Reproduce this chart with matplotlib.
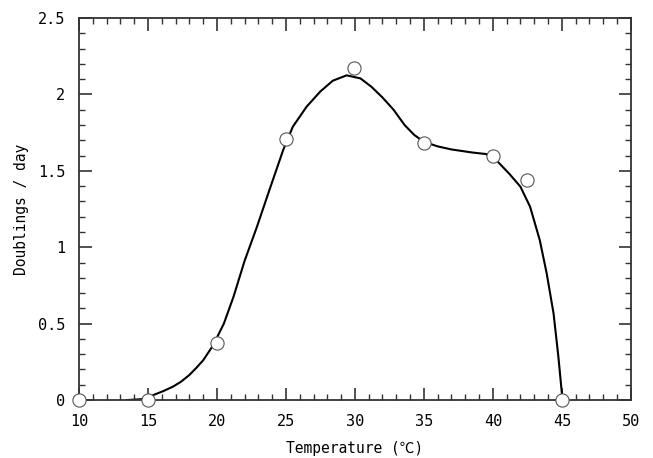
import matplotlib
matplotlib.use("Agg")
import matplotlib.pyplot as plt
from matplotlib.ticker import MultipleLocator

plt.rcParams['font.family'] = ['DejaVu Sans Mono', 'Noto Sans CJK JP']

# measured growth points
temp = [10, 15, 20, 25, 29.9, 35, 40, 42.5, 45]
rate = [0, 0, 0.375, 1.71, 2.17, 1.68, 1.595, 1.44, 0]

# fitted curve
curve_t = [13.5, 14.5, 15.0, 15.4, 16.1, 16.8, 17.4, 18.0, 18.5, 19.0,
           19.7, 20.5, 21.2, 22.0, 22.9, 23.8, 24.8, 25.5, 26.5, 27.5,
           28.4, 29.4, 30.4, 31.2, 32.0, 32.8, 33.6, 34.3, 35.0, 36.0,
           37.0, 38.5, 39.5, 40.3, 41.2, 42.0, 42.7, 43.4, 43.9, 44.4,
           44.75, 45.05]
curve_r = [0, 0.005, 0.018, 0.033, 0.058, 0.087, 0.12, 0.164, 0.21, 0.26,
           0.355, 0.50, 0.676, 0.91, 1.134, 1.374, 1.636, 1.789, 1.92, 2.02,
           2.09, 2.125, 2.105, 2.05, 1.98, 1.90, 1.80, 1.735, 1.69, 1.66,
           1.64, 1.62, 1.61, 1.565, 1.48, 1.396, 1.265, 1.047, 0.83, 0.567,
           0.283, 0]

fig = plt.figure(figsize=(6.53, 4.58), dpi=100)
ax = fig.add_axes([0.121, 0.1266, 0.845, 0.834])

ax.plot(curve_t, curve_r, color='black', lw=1.5, zorder=2)
ax.plot(temp, rate, 'o', ms=9.5, mfc='white', mec='#555555', mew=0.8,
        zorder=3, clip_on=False)

ax.set_xlim(10, 50)
ax.set_ylim(0, 2.5)
ax.xaxis.set_major_locator(MultipleLocator(5))
ax.xaxis.set_minor_locator(MultipleLocator(1))
ax.yaxis.set_major_locator(MultipleLocator(0.5))
ax.yaxis.set_minor_locator(MultipleLocator(0.1))
ax.set_yticks([0, 0.5, 1, 1.5, 2, 2.5])
ax.set_yticklabels(['0', '0.5', '1', '1.5', '2', '2.5'])

ax.tick_params(which='both', direction='in', top=True, right=True,
               color='#333333', labelsize=11)
ax.tick_params(which='major', length=9, width=1.2, pad=10)
ax.tick_params(which='minor', length=4.5, width=1.0)
for s in ax.spines.values():
    s.set_linewidth(1.3)
    s.set_color('#333333')

ax.set_xlabel('Temperature (℃)', fontsize=10.5, labelpad=9)
ax.set_ylabel('Doublings / day', fontsize=10.5, labelpad=6)

fig.savefig('out.png', dpi=100)
